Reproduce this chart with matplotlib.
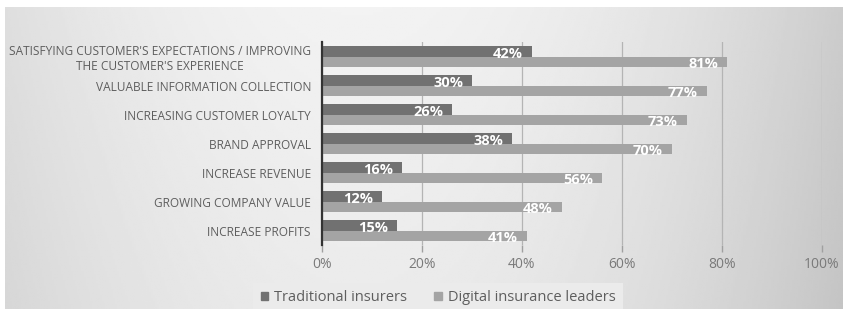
import numpy as np
import matplotlib
matplotlib.use("Agg")
import matplotlib.pyplot as plt
from matplotlib.patches import Patch

categories = [
    "SATISFYING CUSTOMER'S EXPECTATIONS / IMPROVING\nTHE CUSTOMER'S EXPERIENCE",
    "VALUABLE INFORMATION COLLECTION",
    "INCREASING CUSTOMER LOYALTY",
    "BRAND APPROVAL",
    "INCREASE REVENUE",
    "GROWING COMPANY VALUE",
    "INCREASE PROFITS",
]
traditional = [42, 30, 26, 38, 16, 12, 15]
digital = [81, 77, 73, 70, 56, 48, 41]
series_names = ["Traditional insurers", "Digital insurance leaders"]
xticks = [0, 20, 40, 60, 80, 100]
xtick_labels = ["0%", "20%", "40%", "60%", "80%", "100%"]

plt.rcParams['font.family'] = ['Open Sans', 'DejaVu Sans']

W, H = 849, 309
fig = plt.figure(figsize=(W / 100, H / 100), dpi=100)
fig.patch.set_facecolor("white")

# background gradient
bg = fig.add_axes([5 / W, 0, 838 / W, 302 / H])
bg.set_axis_off()
xs = np.linspace(0, 1, 400)
prof = 0.95 - 0.15 * ((xs - 0.42) / 0.58) ** 2
prof = np.clip(prof, 0.78, 0.96)
ys = np.linspace(0, 1, 100)[:, None]
img = prof[None, :] - 0.03 * ys
bg.imshow(img, cmap="gray", vmin=0, vmax=1, aspect="auto", extent=[0, 1, 0, 1])
bg.set_zorder(0)

ax = fig.add_axes([322 / W, (H - 245) / H, 500 / W, 203 / H])
ax.set_zorder(1)
ax.patch.set_alpha(0)

n = len(categories)
y = np.arange(n)
h = 0.345
dark = "#717171"
light = "#a4a4a4"
b1 = ax.barh(y - h / 2, traditional, height=h, color=dark, zorder=3)
b2 = ax.barh(y + h / 2, digital, height=h, color=light, zorder=3)

for bars, vals in ((b1, traditional), (b2, digital)):
    for rect, v in zip(bars, vals):
        ax.text(v - 1.8, rect.get_y() + rect.get_height() / 2 + 0.08, f"{v}%",
                ha="right", va="center", color="white", fontsize=10.5,
                fontweight="bold", zorder=4)

ax.set_xlim(0, 100)
ax.set_ylim(n - 0.5, -0.5)
ax.set_xticks(xticks)
ax.set_xticklabels(xtick_labels, fontsize=10, color="#7a7a7a")
ax.set_yticks(y)
ax.set_yticklabels(categories, fontsize=8.55, color="#5e5e5e", ha="right")
ax.tick_params(axis="y", length=0, pad=8)
ax.tick_params(axis="x", length=5, color="#a0a0a0", pad=4, width=1)
for lbl in ax.get_yticklabels():
    lbl.set_multialignment("center")

ax.grid(axis="x", color="#b4b4b4", linewidth=0.9, zorder=1)
for s in ["top", "right", "bottom"]:
    ax.spines[s].set_visible(False)
ax.spines["left"].set_color("#333333")
ax.spines["left"].set_linewidth(1.6)
ax.spines["left"].set_zorder(5)

handles = [Patch(color=dark), Patch(color=light)]
leg = fig.legend(handles, series_names, loc="lower left",
                 bbox_to_anchor=(246 / W, -0.035), ncol=2, frameon=True,
                 fontsize=10.5, handlelength=0.5, handleheight=0.5,
                 handletextpad=0.4, columnspacing=1.9, borderpad=0.5,
                 fancybox=False)
leg.get_frame().set_facecolor("#ebebeb")
leg.get_frame().set_edgecolor("none")
leg.get_frame().set_alpha(1)
for t in leg.get_texts():
    t.set_color("#5e5e5e")

fig.savefig("out.png", dpi=100, facecolor=fig.get_facecolor())
